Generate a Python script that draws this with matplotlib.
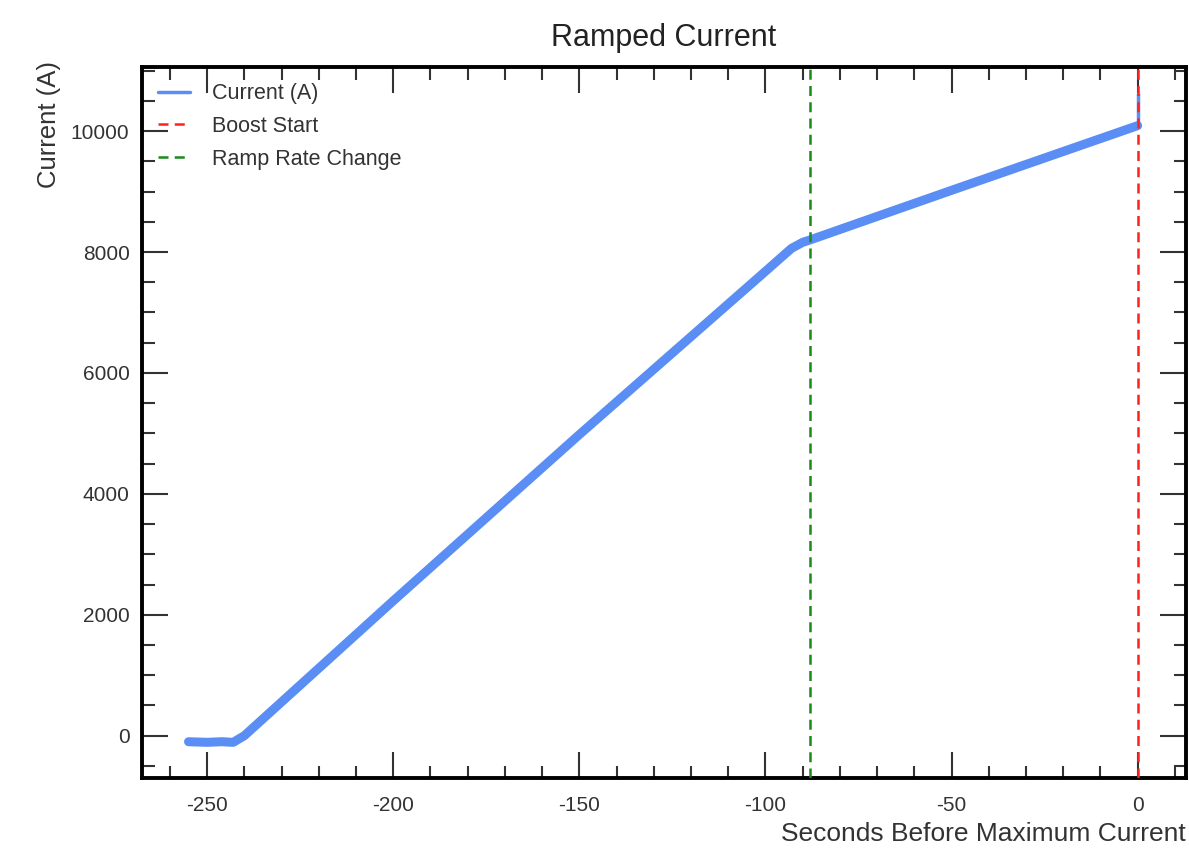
import matplotlib
matplotlib.use('Agg')
import matplotlib.pyplot as plt
from matplotlib.ticker import MultipleLocator

# data
seconds = [-255, -250, -246, -243, -240, -200, -150, -100, -93, -90, -88, -50, 0]
current = [-100, -110, -100, -110, 0, 2230, 4980, 7680, 8060, 8160, 8200, 9020, 10090]
spike_seconds = [0, 0]
spike_current = [10090, 10600]
boost_start = 0
ramp_change = -88

plt.rcParams['font.family'] = ['Liberation Sans', 'DejaVu Sans']
plt.rcParams['axes.unicode_minus'] = False

fig = plt.figure(figsize=(11.89, 8.48), dpi=100)
ax = fig.add_axes([142/1189, 1 - 778/848, (1186-142)/1189, (778-67)/848])

ax.plot(seconds, current, color='#5a8ef5', lw=6.5, solid_capstyle='round',
        solid_joinstyle='round', label='Current (A)')
ax.plot(spike_seconds, spike_current, color='#5a8ef5', lw=2.5)
ax.axvline(boost_start, color='#ff2020', ls=(0, (4, 2.5)), lw=1.8, label='Boost Start', zorder=3)
ax.axvline(ramp_change, color='#1a8a1a', ls=(0, (4, 2.5)), lw=1.8, label='Ramp Rate Change', zorder=3)

ax.set_xlim(-267.5, 13)
ax.set_ylim(-700, 11060)

ax.xaxis.set_major_locator(MultipleLocator(50))
ax.xaxis.set_minor_locator(MultipleLocator(10))
ax.yaxis.set_major_locator(MultipleLocator(2000))
ax.yaxis.set_minor_locator(MultipleLocator(500))
ax.tick_params(which='both', direction='in', top=True, right=True, labelsize=15,
               width=1.5, colors='#333333', labelcolor='#333333')
ax.tick_params(which='major', length=19)
ax.tick_params(axis='x', which='major', pad=13)
ax.tick_params(axis='y', which='major', pad=9)
ax.tick_params(which='minor', length=9)
for s in ax.spines.values():
    s.set_linewidth(2.8)
    s.set_color('black')

ax.set_title('Ramped Current', fontsize=22, color='#222222', pad=15)
ax.set_xlabel('Seconds Before Maximum Current', fontsize=19, color='#333333',
              loc='right', labelpad=5)
ax.set_ylabel('Current (A)', fontsize=18.5, color='#333333', loc='top')
ax.yaxis.set_label_coords(-0.078, 1.008)

leg = ax.legend(loc='upper left', frameon=False, fontsize=15.5, handlelength=1.5,
                handletextpad=1.0, labelspacing=0.55, borderaxespad=0.35)
leg.legend_handles[0].set_linewidth(2.5)
for t in leg.get_texts():
    t.set_color('#333333')

fig.savefig('out.png', dpi=100)
